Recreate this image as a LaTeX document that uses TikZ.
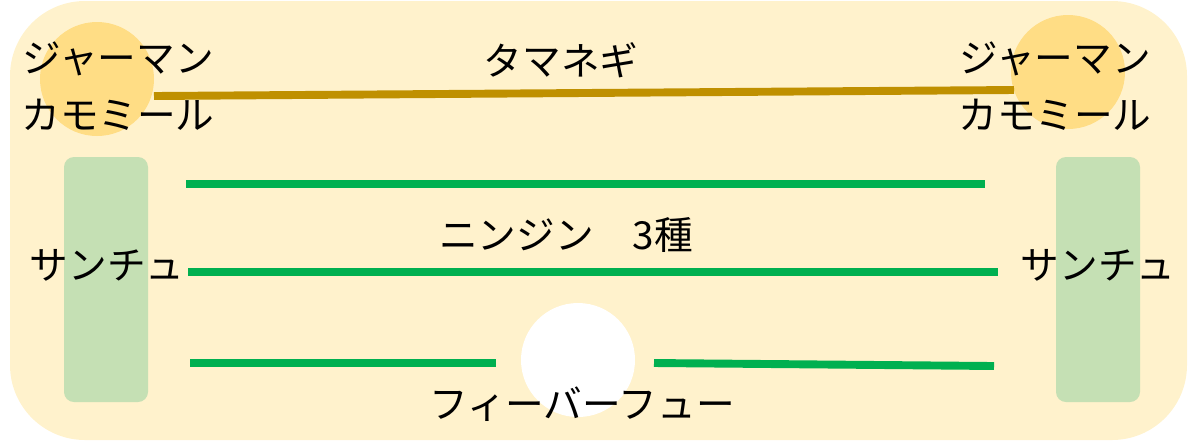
\documentclass[tikz,border=0pt]{standalone}
\usepackage{fontspec}
\setmainfont{Noto Sans CJK JP}
\definecolor{bedyellow}{HTML}{FFF2CC}
\definecolor{herbyellow}{HTML}{FFDD85}
\definecolor{lettucegreen}{HTML}{C5E0B4}
\definecolor{rowgreen}{HTML}{00B050}
\definecolor{onionbrown}{HTML}{BF9000}
\tikzset{
  plantname/.style={font=\fontsize{22}{32.5}\selectfont, inner sep=0pt, align=center},
  carrotrow/.style={line width=4.5pt, rowgreen},
  lettucebed/.style={fill=lettucegreen, rounded corners=0.2cm},
}
\begin{document}
\begin{tikzpicture}[x=0.02cm, y=-0.02cm]
    \useasboundingbox (0,0) rectangle (1200,441);
    \fill[bedyellow, rounded corners=1.5cm] (10,1) rectangle (1187,440);
    % chamomile and onion
    \fill[herbyellow] (97,79) circle (57);
    \fill[herbyellow] (1068,72) circle (57);
    \draw[line width=4.5pt, onionbrown] (154,96)--(1014,90);
    % lettuce
    \fill[lettucebed] (64,157) rectangle (148,402);
    \fill[lettucebed] (1056,157) rectangle (1140,402);
    % carrots
    \draw[carrotrow] (186,184)--(985,184);
    \draw[carrotrow] (188,272)--(998,272);
    \draw[carrotrow] (190,363)--(496,363);
    \draw[carrotrow] (654,363)--(994,366);
    \fill[white] (578,360) circle (57);
    % names
    \node[plantname] (camL) at (118,86) {ジャーマン\\カモミール};
    \node[plantname] (camR) at (1055,86) {ジャーマン\\カモミール};
    \node[plantname] (onion) at (561,60) {タマネギ};
    \node[plantname] (carrot) at (566,235) {ニンジン　3種};
    \node[plantname] (letL) at (107,265) {サンチュ};
    \node[plantname] (letR) at (1098,265) {サンチュ};
    \node[plantname] (fever) at (582,404) {フィーバーフュー};
\end{tikzpicture}
\end{document}
